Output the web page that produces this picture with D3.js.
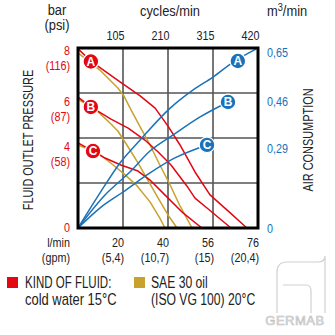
<!DOCTYPE html>
<html><head><meta charset="utf-8">
<script src="https://cdn.jsdelivr.net/npm/d3@7"></script>
<style>
html,body{margin:0;padding:0;background:#fff;}
svg{display:block;font-family:'Liberation Sans',Arial,sans-serif;}
</style></head>
<body><svg id="c" width="335" height="335"></svg>
<script>
// ---- data ----
const cycleTicks = [105, 210, 315, 420];
const flowLabels = ["20", "40", "56", "76"];
const gpmLabels = ["(5,4)", "(10,7)", "(15)", "(20,4)"];
const barTicks = [8, 6, 4, 0];
const psiLabels = ["(116)", "(87)", "(58)", ""];
const airTicks = [0.65, 0.46, 0.29, 0];
const airLabels = ["0,65", "0,46", "0,29", "0"];
const gridBars = [2, 4, 6];

// pressure curves (x: cycles/min, y: bar) – cold water
const waterA = [[0,7.96],[30,7.42],[98,6.49],[145,5.87],[180,5.33],[210,4.53],[238,3.69],[273,2.49],[308,1.47],[350,0.76],[394,0]];
const waterB = [[0,5.82],[30,5.38],[77,4.84],[117,4.44],[156,3.91],[187,3.38],[217,2.80],[254,1.87],[273,1.33],[301,0.89],[357,0]];
const waterC = [[0,3.78],[35,3.42],[63,3.11],[100,2.80],[140,2.53],[168,2.13],[198,1.56],[245,0.67],[289,0]];
// pressure curves – SAE 30 oil
const oilA = [[0,7.78],[51,7.02],[93,6.22],[107,5.87],[124,5.24],[145,4.49],[168,3.69],[191,2.80],[215,1.91],[238,0.98],[266,0]];
const oilB = [[0,5.73],[47,5.16],[77,4.62],[93,4.31],[117,3.60],[140,2.89],[163,2.13],[187,1.33],[210,0.58],[231,0]];
const oilC = [[0,3.69],[47,3.33],[82,2.80],[110,2.36],[138,1.87],[168,1.16],[191,0.44],[203,0]];
// air consumption curves (x: cycles/min, y: m3/min)
const airA = [[0,0],[51,0.126],[98,0.235],[145,0.318],[215,0.433],[268,0.498],[315,0.545],[362,0.599],[415,0.646]];
const airB = [[0,0],[63,0.119],[121,0.202],[168,0.278],[222,0.336],[285,0.401],[350,0.455]];
const airC = [[0,0],[51,0.072],[105,0.130],[168,0.199],[226,0.253],[301,0.300]];

const markerLetters = ["A", "B", "C"];
const waterMarkers = [[30,7.40],[30,5.38],[35,3.42]];
const airMarkers = [[373,0.603],[350,0.455],[301,0.300]];

// ---- drawing ----
const RED = "#e30613", GOLD = "#c7a22c", BLUE = "#1a72b9", INK = "#222";
const svg = d3.select("#c");
const x = d3.scaleLinear().domain([0, 420]).range([78, 258]);
const yBar = d3.scaleLinear().domain([0, 8]).range([228, 48]);
const yAir = d3.scaleLinear().domain([0, 0.65]).range([228, 48]);

// condensed text helper
function txt(parent, tx, ty, s, o = {}) {
  const size = o.size || 13, sx = o.sx || 0.83;
  return parent.append("text")
    .attr("transform", `translate(${tx},${ty})${o.rot ? ` rotate(${o.rot})` : ""} scale(${sx},1)`)
    .attr("text-anchor", o.anchor || "start").attr("font-size", size).attr("fill", o.fill || INK).text(s);
}

// grid
svg.append("g").selectAll("line").data(cycleTicks.slice(0, 3)).join("line")
  .attr("x1", d => x(d)).attr("x2", d => x(d)).attr("y1", yBar(8)).attr("y2", yBar(0))
  .attr("stroke", "#555").attr("stroke-width", 1.6);
svg.append("g").selectAll("line").data(gridBars).join("line")
  .attr("x1", x(0)).attr("x2", x(420)).attr("y1", d => yBar(d)).attr("y2", d => yBar(d))
  .attr("stroke", "#555").attr("stroke-width", 1.6);

// curves
const lineBar = d3.line().x(d => x(d[0])).y(d => yBar(d[1]));
const lineAir = d3.line().x(d => x(d[0])).y(d => yAir(d[1])).curve(d3.curveMonotoneX);
const curves = svg.append("g").attr("fill", "none").attr("stroke-width", 1.5).attr("stroke-linejoin", "round");
[oilA, oilB, oilC].forEach(s => curves.append("path").attr("d", lineBar(s)).attr("stroke", GOLD));
[waterA, waterB, waterC].forEach(s => curves.append("path").attr("d", lineBar(s)).attr("stroke", RED));
[airA, airB, airC].forEach(s => curves.append("path").attr("d", lineAir(s)).attr("stroke", BLUE));

// frame
svg.append("rect").attr("x", x(0)).attr("y", yBar(8)).attr("width", x(420) - x(0)).attr("height", yBar(0) - yBar(8))
  .attr("fill", "none").attr("stroke", "#000").attr("stroke-width", 3);

// markers
function marker(cx, cy, color, letter) {
  const g = svg.append("g").attr("transform", `translate(${cx},${cy})`);
  g.append("circle").attr("r", 7.8).attr("fill", color).attr("stroke", "#fff").attr("stroke-width", 1.2);
  g.append("text").text(letter).attr("text-anchor", "middle").attr("dy", "0.36em")
    .attr("fill", "#fff").attr("font-weight", "bold").attr("font-size", 12);
}
waterMarkers.forEach((d, i) => marker(x(d[0]), yBar(d[1]), RED, markerLetters[i]));
airMarkers.forEach((d, i) => marker(x(d[0]), yAir(d[1]), BLUE, markerLetters[i]));

// top axis (cycles/min)
const topAx = svg.append("g").attr("transform", "translate(1,40)")
  .call(d3.axisTop(x).tickValues(cycleTicks).tickSize(0).tickPadding(0));
topAx.select(".domain").remove();
topAx.selectAll("text").attr("text-anchor", "end").attr("font-size", 13).attr("fill", INK)
  .attr("font-family", "'Liberation Sans',Arial,sans-serif").attr("dy", 0).attr("y", 0)
  .attr("transform", "scale(0.83,1)");

// bottom labels (l/min, gpm)
const botAx = svg.append("g");
cycleTicks.forEach((d, i) => {
  txt(botAx, x(d) + 1, 247, flowLabels[i], { anchor: "end" });
  txt(botAx, x(d) + 1, 262, gpmLabels[i], { anchor: "end" });
});
txt(botAx, 70, 247, "l/min", { anchor: "end" });
txt(botAx, 70, 262, "(gpm)", { anchor: "end" });

// left labels (bar / psi)
const leftAx = svg.append("g");
const barOff = v => v === 8 ? 7 : (v === 0 ? 4 : 13);
barTicks.forEach((v, i) => {
  txt(leftAx, 70, yBar(v) + barOff(v), String(v), { anchor: "end", fill: RED });
  if (psiLabels[i]) txt(leftAx, 70, yBar(v) + barOff(v) + 15, psiLabels[i], { anchor: "end", fill: RED });
});

// right labels (m3/min)
const rightAx = svg.append("g");
airTicks.forEach((v, i) => txt(rightAx, 267, yAir(v) + (v === 0.65 ? 9 : 5), airLabels[i], { fill: BLUE }));

// unit titles
const ttl = svg.append("g");
txt(ttl, 57, 15, "bar", { size: 14, sx: 0.92, anchor: "middle" });
txt(ttl, 57, 30, "(psi)", { size: 14, sx: 0.92, anchor: "middle" });
txt(ttl, 170, 16, "cycles/min", { size: 14, sx: 0.92, anchor: "middle" });
const m3 = txt(ttl, 267, 16, "", { size: 14, sx: 0.92 });
m3.append("tspan").text("m");
m3.append("tspan").attr("font-size", 10).attr("dy", -5).text("3");
m3.append("tspan").attr("dy", 5).text("/min");

// axis titles
txt(svg, 33, 140, "FLUID OUTLET PRESSURE", { size: 14, sx: 0.78, anchor: "middle", rot: -90 });
txt(svg, 313, 140, "AIR CONSUMPTION", { size: 14, sx: 0.78, anchor: "middle", rot: -90 });

// legend
const lg = svg.append("g");
lg.append("rect").attr("x", 7).attr("y", 277).attr("width", 11).attr("height", 11).attr("fill", RED);
txt(lg, 25, 288, "KIND OF FLUID:", { size: 16, sx: 0.72 });
txt(lg, 25, 305, "cold water 15°C", { size: 16, sx: 0.81 });
lg.append("rect").attr("x", 134).attr("y", 277).attr("width", 11).attr("height", 11).attr("fill", GOLD);
txt(lg, 151, 288, "SAE 30 oil", { size: 16, sx: 0.76 });
txt(lg, 151, 305, "(ISO VG 100) 20°C", { size: 16, sx: 0.76 });

// GERMAB logo
const logo = svg.append("g").attr("fill", "none").attr("stroke", "#d0d0d0").attr("stroke-width", 1.2);
logo.append("path").attr("d", "M277,313 L277,272 Q277,262 287,262 L318,262 Q325,262 325,256 L325,313");
logo.append("path").attr("d", "M283,285 L306,285 Q311,285 311,291 L311,313");
svg.append("text").attr("x", 295).attr("y", 325).attr("text-anchor", "middle").attr("font-size", 13)
  .attr("fill", "#eee").attr("stroke", "#bbb").attr("stroke-width", 0.6)
  .attr("letter-spacing", 0.5).text("GERMAB");
</script></body></html>
